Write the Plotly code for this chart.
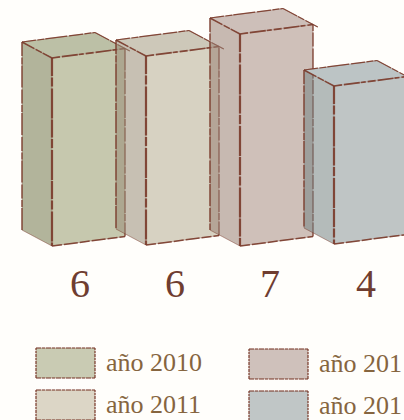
import plotly.graph_objects as go

# ---- data ----
series = ["año 2010", "año 2011", "año 201", "año 201"]
labels = ["6", "6", "7", "4"]
column_heights = [188, 189, 212, 158]  # drawn heights, in axis units
baselines = [0, 1, 0, 2]

# ---- styles ----
front_colors = ["#c6c8ae", "#d7d2c2", "#cfc0b9", "#bfc5c5"]
top_colors = ["#bcc0a6", "#cdc8b9", "#cdbfb9", "#bcc4c5"]
side_colors = ["rgba(115,118,76,.55)", "rgba(153,140,120,.55)",
               "rgba(153,128,117,.55)", "rgba(118,131,133,.55)"]
swatch_colors = ["#c9cbb3", "#dcd6c6", "#cfc1bb", "#c0c6c6"]
INK = "rgba(122,59,43,.9)"
LABEL = "#6f3d30"
LEGEND = "#86653f"
BG = "#fffefb"

# ---- layout geometry ----
X0, STEP = 52, 94
W = (73, -9.5)
D = (-30, -16)
BASE_PX = 246
FIG_W, FIG_H = 404, 420

fig = go.Figure()


def poly(pts, color):
    xs = [p[0] for p in pts] + [pts[0][0]]
    ys = [p[1] for p in pts] + [pts[0][1]]
    fig.add_trace(go.Scatter(x=xs, y=ys, mode="lines", fill="toself", fillcolor=color,
                             line=dict(width=0), hoverinfo="skip", showlegend=False))


def edge(a, b, width=1.6, dash="14px,1.5px,7px,1px,22px,2px", color=INK):
    # thin pale stroke below, broken sketch stroke above
    fig.add_trace(go.Scatter(x=[a[0], b[0]], y=[a[1], b[1]], mode="lines",
                             line=dict(width=0.8, color="rgba(122,59,43,.4)"),
                             hoverinfo="skip", showlegend=False))
    fig.add_trace(go.Scatter(x=[a[0], b[0]], y=[a[1], b[1]], mode="lines",
                             line=dict(width=width, color=color, dash=dash),
                             hoverinfo="skip", showlegend=False))


for i, h in enumerate(column_heights):
    # y axis points up, so the depth and width vectors flip their y part
    fbl = (X0 + STEP * i, baselines[i])
    ftl = (fbl[0], fbl[1] + h)
    fbr = (fbl[0] + W[0], fbl[1] - W[1])
    ftr = (ftl[0] + W[0], ftl[1] - W[1])
    bbl = (fbl[0] + D[0], fbl[1] - D[1])
    btl = (ftl[0] + D[0], ftl[1] - D[1])
    btr = (ftr[0] + D[0], ftr[1] - D[1])
    poly([bbl, btl, ftl, fbl], side_colors[i])
    poly([fbl, ftl, ftr, fbr], front_colors[i])
    poly([ftl, ftr, btr, btl], top_colors[i])
    edge(btl, bbl, width=1.4)
    edge(ftl, fbl, width=2.2, dash="18px,1.5px,9px,2px,30px,1px")
    edge(ftl, ftr, width=1.7, dash="8px,2px,16px,1px,5px,2px")
    edge(fbl, fbr, width=1.5, dash="10px,2px,14px,2px")
    edge(fbr, ftr, width=1.3)
    edge(btl, ftl, width=1.5)
    edge(btl, btr, width=1.2)
    edge((ftr[0] - D[0] * 0.16, ftr[1] + D[1] * 0.16), btr, width=1.2)
    edge(bbl, fbl, width=0.7, dash="solid", color="rgba(122,59,43,.3)")

annotations = []
for i, t in enumerate(labels):
    annotations.append(dict(x=80 + 95 * i + (1 if i == 3 else 0), y=BASE_PX - 283, text=t,
                            showarrow=False, xanchor="center", yanchor="middle",
                            font=dict(family="Liberation Serif", size=40, color=LABEL)))

# legend, drawn by hand so that it sits in the same two-column block
swatch_x = [36, 249]
swatch_y = [363, 405]
text_x = [104, 317]
order = [(0, 0), (0, 1), (1, 0), (1, 1)]
for (col, row), name, color in zip(order, series, swatch_colors):
    x0 = swatch_x[col]
    yc = BASE_PX - (swatch_y[row] + (1 if col else 0))
    x1, y0, y1 = x0 + 59, yc - 15, yc + 15
    poly([(x0, y0), (x0, y1), (x1, y1), (x1, y0)], color)
    edge((x0, y1), (x1, y1), width=1.2, dash="5px,1px,3px,1px")
    edge((x0, y0), (x1, y0), width=1.2, dash="5px,1px,3px,1px")
    edge((x0, y0), (x0, y1), width=1.2, dash="3px,1px,2px,1px")
    edge((x1, y0), (x1, y1), width=1.2, dash="3px,1px,2px,1px")
    annotations.append(dict(x=text_x[col], y=yc + 1, text=name, showarrow=False,
                            xanchor="left", yanchor="middle",
                            font=dict(family="Liberation Serif", size=26, color=LEGEND)))

fig.update_layout(
    width=FIG_W, height=FIG_H, margin=dict(l=0, r=0, t=0, b=0),
    paper_bgcolor=BG, plot_bgcolor=BG, showlegend=False, annotations=annotations,
    xaxis=dict(range=[0, FIG_W], visible=False, fixedrange=True),
    yaxis=dict(range=[BASE_PX - FIG_H, BASE_PX], visible=False, fixedrange=True),
)
fig.write_html("out.html", config={"displayModeBar": False},
               post_script="document.body.style.margin='0';")
